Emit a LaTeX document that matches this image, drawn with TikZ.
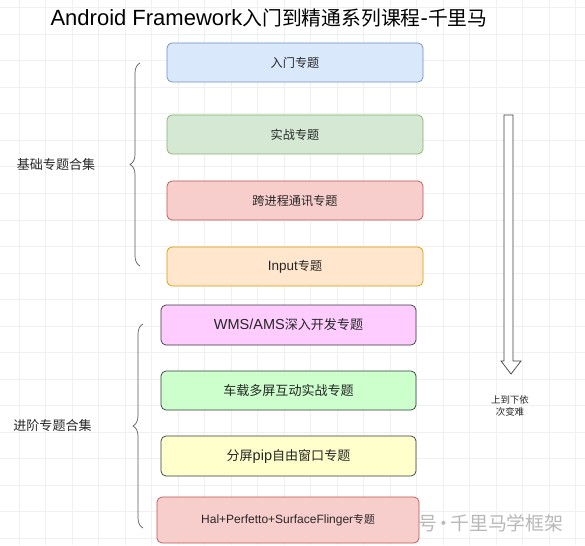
\documentclass[tikz,border=0pt]{standalone}
\usepackage{fontspec}
\setmainfont{Liberation Sans}
\newfontfamily\cjk[Scale=0.9]{Noto Sans CJK SC}
\usetikzlibrary{decorations.pathreplacing}

\begin{document}
\begin{tikzpicture}[
    x=1pt, y=-1pt,                   % 1 drawing unit = 1 px, y grows downwards
    gridln/.style={black!6,line width=0.4pt},
    topic/.style={draw,rounded corners=5pt,line width=0.7pt,text=black!85,
                  minimum width=256pt,minimum height=39pt,inner sep=0pt},
    brc/.style={decorate,decoration={brace,amplitude=10pt},black!65,line width=0.7pt},
    grp/.style={font=\fontsize{14.5}{17}\selectfont,text=black!85},
  ]
  \definecolor{blueF}{HTML}{DAE8FC}  \definecolor{blueE}{HTML}{6C8EBF}
  \definecolor{greenF}{HTML}{D5E8D4} \definecolor{greenE}{HTML}{82B366}
  \definecolor{redF}{HTML}{F8CECC}   \definecolor{redE}{HTML}{B85450}
  \definecolor{orngF}{HTML}{FFE6CC}  \definecolor{orngE}{HTML}{D79B00}
  \definecolor{pinkF}{HTML}{FFCCFF}  \definecolor{mintF}{HTML}{CCFFCC}
  \definecolor{yellF}{HTML}{FFFFCC}  \definecolor{darkE}{HTML}{36393D}

  \useasboundingbox (0,0) rectangle (585,545);

  %% ---------------- background grid ----------------
  \foreach \x in {18.7,45.2,...,585}{\draw[gridln] (\x,0) -- (\x,545);}
  \foreach \y in {7.7,34.2,...,545}{\draw[gridln] (0,\y) -- (585,\y);}

  %% ---------------- title ----------------
  \node[font=\fontsize{22}{26}\selectfont] (title) at (269,18)
        {Android Framework{\cjk 入门到精通系列课程}-{\cjk 千里马}};

  %% ---------------- basic topics ----------------
  \begin{scope}[every node/.append style={font=\fontsize{13.5}{16}\selectfont}]
    \node[topic,fill=blueF,draw=blueE]   (box1) at (295,62.5)  {\cjk 入门专题};
    \node[topic,fill=greenF,draw=greenE] (box2) at (295,134.5) {\cjk 实战专题};
    \node[topic,fill=redF,draw=redE]     (box3) at (295,200.5) {\cjk 跨进程通讯专题};
    \node[topic,fill=orngF,draw=orngE]   (box4) at (295,266.5) {Input{\cjk 专题}};
  \end{scope}
  \draw[brc] (140,266) -- (140,63);
  \node[grp] (grpA) at (56,165) {\cjk 基础专题合集};

  %% ---------------- advanced topics ----------------
  \begin{scope}[every node/.append style={font=\fontsize{14.5}{17}\selectfont}]
    \node[topic,fill=pinkF,draw=darkE,minimum width=255pt,minimum height=40pt]
          (box5) at (288.5,325) {WMS/AMS{\cjk 深入开发专题}};
    \node[topic,fill=mintF,draw=darkE,minimum width=255pt]
          (box6) at (288.5,390.5) {\cjk 车载多屏互动实战专题};
    \node[topic,fill=yellF,draw=darkE,minimum width=255pt,minimum height=40pt]
          (box7) at (288.5,456) {{\cjk 分屏}pip{\cjk 自由窗口专题}};
  \end{scope}
  \node[topic,fill=redF,draw=redE,minimum width=262pt,minimum height=46pt,
        font=\fontsize{12}{14}\selectfont]
        (box8) at (288,520) {Hal+Perfetto+SurfaceFlinger{\cjk 专题}};
  \draw[brc] (143,528) -- (143,324);
  \node[grp] (grpB) at (52.5,426) {\cjk 进阶专题合集};

  %% ---------------- difficulty arrow ----------------
  \filldraw[fill=white,draw=black!75,line width=0.7pt]
        (504,115) -- (513,115) -- (513,361) -- (521,361) -- (511,374)
        -- (501,361) -- (504,361) -- cycle;
  \node[align=center,font=\fontsize{10.5}{12.5}\selectfont,text=black!85]
        (note) at (510,406) {\cjk 上到下依\\\cjk 次变难};

  %% watermark
  \node[font=\fontsize{21}{24}\selectfont,text=black!28] (mark) at (491,523)
        {\cjk 号\hspace{-3pt}·\hspace{-3pt}千里马学框架};
\end{tikzpicture}
\end{document}
